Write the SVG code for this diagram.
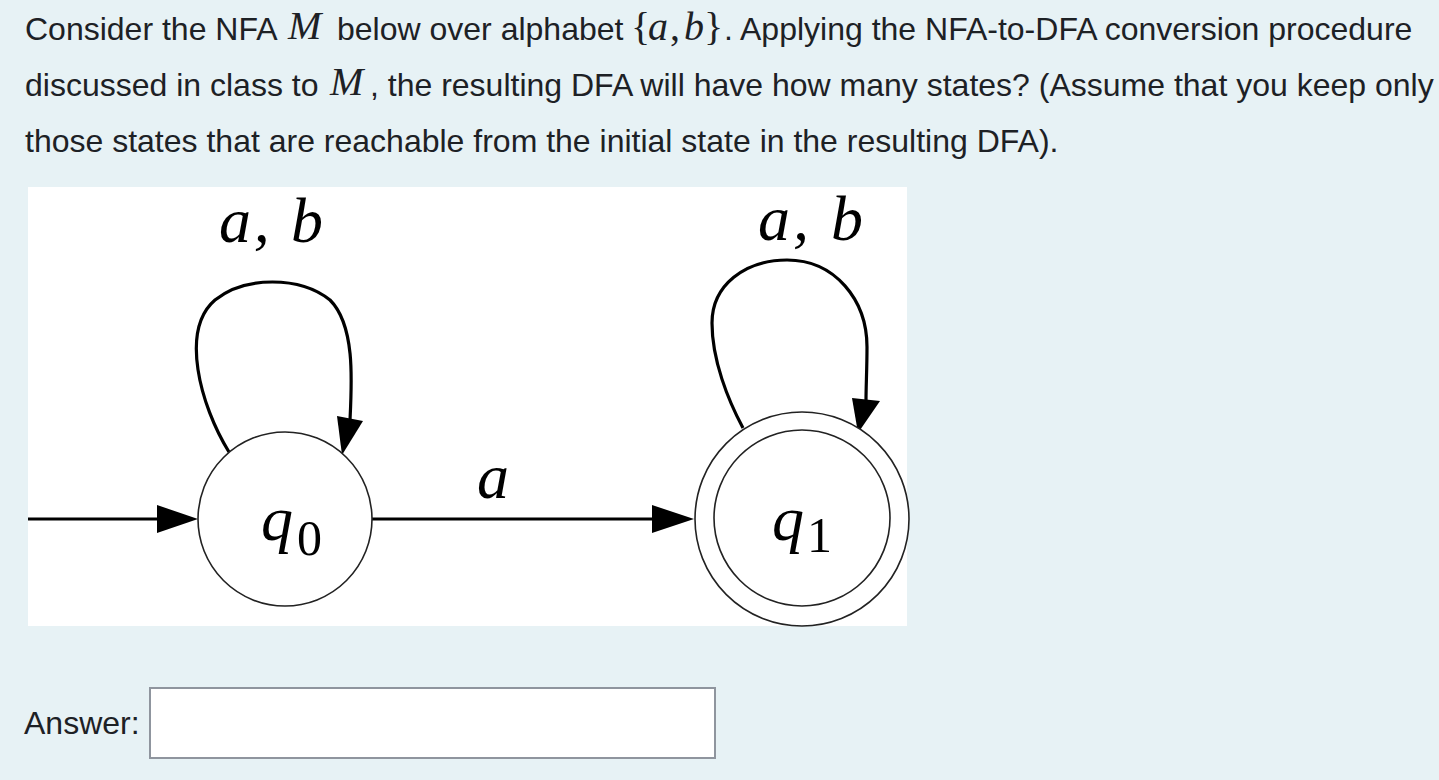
<svg xmlns="http://www.w3.org/2000/svg" width="1439" height="780" viewBox="0 0 1439 780">
<style>
.q{font-family:"Liberation Sans",Arial,sans-serif;font-size:32px;fill:#1d2125}
.m{font-family:"Liberation Serif","DejaVu Serif",serif;font-style:italic;font-size:40px;fill:#1d2125}
.mu{font-style:normal}
.lbl{font-family:"Liberation Serif","DejaVu Serif",serif;font-style:italic;font-size:64px;fill:#000}
.sub{font-family:"Liberation Serif","DejaVu Serif",serif;font-style:normal;font-size:50px;fill:#000}
.st{fill:#fff;stroke:#222;stroke-width:1.6}
.e{fill:none;stroke:#000;stroke-width:3.2}
.ah{fill:#000;stroke:none}
</style>
<rect x="0" y="0" width="1439" height="780" fill="#e7f2f5"/>
<g id="question">
<text class="q" x="25" y="40">Consider the NFA</text>
<text class="m" x="288" y="39">M</text>
<text class="q" x="337" y="40">below over alphabet</text>
<text class="m" y="40"><tspan class="mu" x="631">{</tspan><tspan x="648">a</tspan><tspan class="mu" x="670">,</tspan><tspan x="684">b</tspan><tspan class="mu" x="704">}</tspan></text>
<text class="q" x="724" y="40">. Applying the NFA-to-DFA conversion procedure</text>
<text class="q" x="25" y="96">discussed in class to</text>
<text class="m" x="330" y="95">M</text>
<text class="q" x="370" y="96">, the resulting DFA will have how many states? (Assume that you keep only</text>
<text class="q" x="25" y="152">those states that are reachable from the initial state in the resulting DFA).</text>
</g>
<rect id="canvas" x="28" y="187" width="879" height="439" fill="#fff"/>
<g id="connectors">
<line class="e" x1="28" y1="519" x2="162" y2="519"/>
<polygon class="ah" points="198,519 157,505 157,533"/>
<line class="e" x1="372" y1="519" x2="656" y2="519"/>
<polygon class="ah" points="694,519 652,505 652,533"/>
<text class="lbl" x="477" y="498">a</text>
<path class="e" d="M229,452 C200,405 180,330 215,300 C245,276 300,276 330,300 C355,325 352,380 350,420"/>
<polygon class="ah" points="342,455 337,416 363,421"/>
<text class="lbl" x="219" y="242" textLength="104" lengthAdjust="spacing">a, b</text>
<path class="e" d="M743,428 C728,400 712,360 712,323 C712,285 745,260 787,260 C835,260 867,300 867,347 C867,370 866,385 866,400"/>
<polygon class="ah" points="858,433 852,398 880,401"/>
<text class="lbl" x="758" y="240" textLength="105" lengthAdjust="spacing">a, b</text>
</g>
<g id="q0">
<circle class="st" cx="285" cy="519" r="87"/>
<text class="lbl" x="261" y="540">q</text>
<text class="sub" x="297" y="555">0</text>
</g>
<g id="q1">
<circle class="st" cx="802" cy="519" r="107"/>
<circle class="st" cx="802" cy="518" r="88"/>
<text class="lbl" x="772" y="540">q</text>
<text class="sub" x="807" y="552">1</text>
</g>
<g id="answer">
<text class="q" x="24" y="734">Answer:</text>
<rect x="150" y="688" width="565" height="70" fill="#fff" stroke="#8f959e" stroke-width="2"/>
</g>
</svg>
